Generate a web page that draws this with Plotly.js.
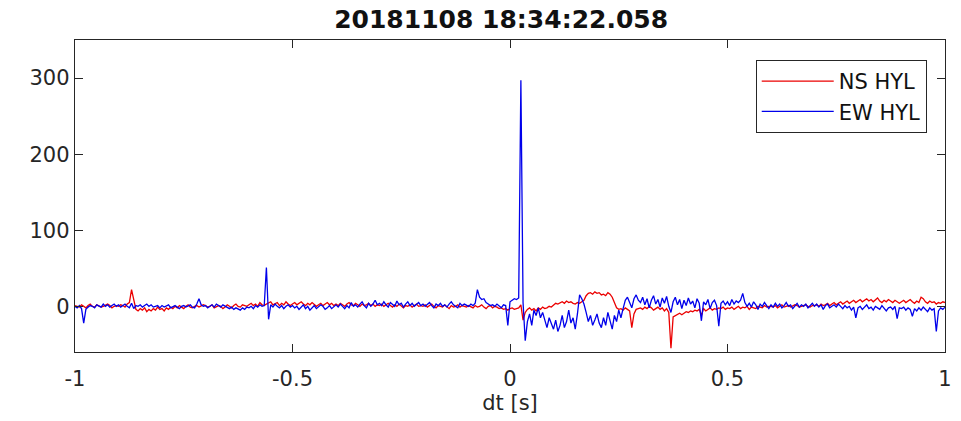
<!DOCTYPE html>
<html>
<head>
<meta charset="utf-8">
<script src="https://cdn.plot.ly/plotly-3.0.1.min.js"></script>
<style>html,body{margin:0;padding:0;background:#fff;}#chart{width:961px;height:421px;}</style>
</head>
<body>
<div id="chart"></div>
<script>
// sampling grid of the traces (seconds)
const tStart = -1.0;
const tStep = 0.005;

// NS HYL (red), one row = 0.1 s
const nsHYL = [
  1,0,-1,2,0,-2,1,3,0,-1,2,1,-1,0,2,3,1,-2,0,1,
  0,2,1,-1,3,5,22,8,-4,-6,-3,-5,-2,-7,-4,-6,-3,-5,-1,-4,
  -3,-6,-2,-4,-1,-3,0,-2,1,-1,-3,0,2,-1,-2,0,1,-1,0,2,
  1,-1,0,2,-2,-1,1,0,-3,-1,2,0,-2,1,3,0,-1,2,1,0,
  2,4,1,3,0,5,2,1,3,4,6,2,3,5,1,4,2,6,3,1,
  3,5,2,4,6,3,1,4,2,5,3,0,2,4,1,3,5,2,4,1,
  3,1,4,2,0,3,5,2,1,4,2,0,3,1,2,4,1,3,0,2,
  1,3,0,2,4,1,-1,2,0,3,1,-2,1,0,2,-1,1,3,0,1,
  0,2,-1,1,3,0,-2,1,0,-1,2,0,-3,1,-1,0,2,-1,1,0,
  -1,1,0,-2,1,-1,0,2,-1,-3,0,1,-2,0,-1,-3,-2,-4,-3,-5,
  -3,-2,-4,-3,-2,2,-18,-8,-4,-2,-5,-3,-6,-2,-4,-1,-3,-2,0,-1,
  2,4,3,5,6,4,7,5,6,4,3,5,4,6,8,14,17,18,16,19,
  17,18,15,16,14,18,16,12,4,-2,-4,-3,-5,-2,-4,-6,-28,-10,-4,-3,
  -2,-4,-1,-3,0,-2,-5,-3,-1,-4,-2,-6,-3,-8,-55,-14,-12,-10,-9,-11,
  -9,-7,-8,-6,-7,-5,-6,-4,-12,-3,-6,-4,-2,-5,-3,-4,-2,-3,-1,-4,
  -2,-3,-1,-4,-2,0,-3,-1,-2,0,-4,-1,-2,-3,0,-1,-2,1,-1,0,
  0,-1,1,-2,0,2,-1,0,1,-1,0,2,1,-1,0,1,2,0,-1,1,
  1,2,0,3,1,2,4,1,3,5,2,4,6,3,5,7,4,6,8,5,
  7,9,6,8,10,7,9,6,8,11,7,5,8,6,9,7,5,8,6,4,
  6,8,5,7,9,6,4,7,5,12,10,6,4,7,5,6,3,5,4,6,
  5
];

// EW HYL (blue), one row = 0.1 s
const ewHYL = [
  0,-2,1,-3,-22,-4,-1,1,0,-2,2,1,-1,3,0,2,-1,1,3,0,
  2,-1,1,3,0,-2,4,-3,1,0,2,-1,1,3,0,2,-1,0,1,-2,
  1,-1,0,2,-2,0,1,-1,-3,0,1,-1,0,2,-1,-2,3,10,2,0,
  1,-2,0,2,-1,3,1,-1,2,0,-2,-3,-1,-4,-2,-3,-5,-2,-4,-1,
  -2,0,-3,1,-1,2,0,1,51,-17,2,-1,3,0,-2,1,-3,0,2,-1,
  1,-2,0,-4,-1,2,-3,0,-5,-2,1,-3,-1,2,0,-4,-2,1,-3,0,
  2,-1,3,0,-3,1,-2,5,0,2,-1,3,6,1,-2,4,0,3,8,2,
  4,1,6,2,-1,5,3,0,7,2,4,-1,3,6,1,4,0,2,5,1,
  3,0,2,5,1,-2,3,1,4,0,2,-1,3,6,2,0,-2,4,1,3,
  2,0,3,1,4,22,12,9,10,5,3,1,2,0,3,1,-2,2,1,-25,
  6,8,10,9,11,297,5,-45,-20,-10,-25,-5,-12,-2,-15,-8,-20,-28,-15,-22,
  -30,-18,-33,-25,-12,-28,-20,-5,-22,-15,-30,-10,15,10,3,-8,-20,-12,-25,-18,
  -10,-22,-28,-15,-25,-8,-18,-30,-12,-20,-5,-15,-3,8,12,5,-2,10,15,8,
  5,12,2,10,-2,8,14,3,9,-1,11,4,13,0,-8,6,12,2,9,-3,
  8,1,11,3,7,-2,10,4,-19,6,2,9,-3,5,8,1,-26,4,7,2,
  6,1,9,3,7,5,8,17,5,0,4,-1,6,2,-4,3,0,5,1,-3,
  2,-1,4,0,3,-2,1,5,0,2,-3,1,4,-1,2,0,3,-2,1,4,
  0,3,-1,2,-4,1,3,-2,0,2,-1,3,0,-3,1,-2,0,-5,-1,-15,
  -2,0,-4,-1,2,-3,-1,-5,0,-2,-4,1,-3,-6,-2,-1,-4,0,-16,-2,
  -3,-1,-5,-2,-4,-13,-3,-6,-2,-5,-1,-4,-7,-2,-5,-3,-33,-6,-2,-4,
  -1
];

const seriesNames = ["NS HYL", "EW HYL"];
const xTickVals = [-1, -0.5, 0, 0.5, 1];
const xTickText = ["-1", "-0.5", "0", "0.5", "1"];
const yTickVals = [0, 100, 200, 300];
const yTickText = ["0", "100", "200", "300"];
const titleText = "20181108 18:34:22.058";
const xLabel = "dt [s]";

const t = nsHYL.map((_, i) => +(tStart + i * tStep).toFixed(4));

const traces = [
  {x: t, y: nsHYL, type: "scatter", mode: "lines", name: seriesNames[0],
   line: {color: "rgb(235,0,0)", width: 1.3}},
  {x: t, y: ewHYL, type: "scatter", mode: "lines", name: seriesNames[1],
   line: {color: "rgb(0,0,235)", width: 1.3}}
];

const axisCommon = {
  showline: true, linecolor: "#262626", linewidth: 1.2, mirror: "allticks",
  ticks: "inside", ticklen: 8, tickcolor: "#262626", tickwidth: 1,
  showgrid: false, zeroline: false,
  tickfont: {family: "DejaVu Sans", size: 21, color: "#262626"}
};

const layout = {
  width: 961, height: 421,
  margin: {l: 75, r: 16, t: 40, b: 69},
  paper_bgcolor: "#fff", plot_bgcolor: "#fff",
  title: {text: "<b>" + titleText + "</b>", x: 0.5215, xanchor: "center", y: 0.955, yanchor: "middle",
          font: {family: "DejaVu Sans", size: 25, color: "#111"}},
  xaxis: Object.assign({}, axisCommon, {
    range: [-1, 1], tickmode: "array", tickvals: xTickVals, ticktext: xTickText,
    ticklabelstandoff: 8,
    title: {text: xLabel, standoff: 4, font: {family: "DejaVu Sans", size: 21, color: "#262626"}}
  }),
  yaxis: Object.assign({}, axisCommon, {
    range: [-60, 350], tickmode: "array", tickvals: yTickVals, ticktext: yTickText
  }),
  showlegend: true,
  legend: {x: 0.979, xanchor: "right", y: 0.936, yanchor: "top",
           bgcolor: "#fff", bordercolor: "#262626", borderwidth: 1,
           font: {family: "DejaVu Sans", size: 21, color: "#111"},
           tracegroupgap: 0, itemwidth: 72}
};

Plotly.newPlot("chart", traces, layout, {staticPlot: true, displayModeBar: false});
</script>
</body>
</html>
